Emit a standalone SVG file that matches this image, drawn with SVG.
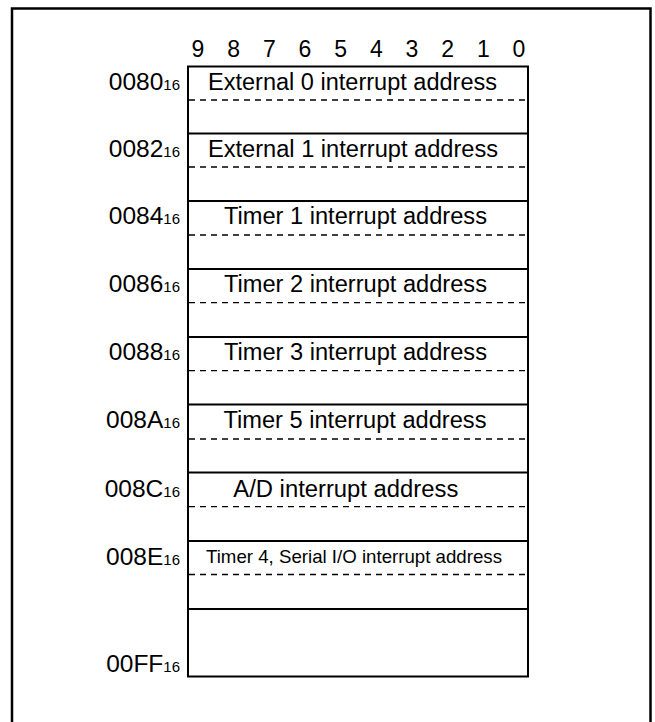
<svg xmlns="http://www.w3.org/2000/svg" width="655" height="722" viewBox="0 0 655 722">
<style>
  text { font-family: "Liberation Sans", Arial, sans-serif; fill: #000; }
  .bit { font-size: 23px; text-anchor: middle; }
  .lbl { font-size: 24.5px; text-anchor: end; }
  .sub { font-size: 15px; }
  .cell { font-size: 23.5px; text-anchor: middle; }
  .cell-s { font-size: 18.5px; text-anchor: middle; }
  .solid { stroke: #000; stroke-width: 2; fill: none; }
  .dash { stroke: #000; stroke-width: 1.3; stroke-dasharray: 6 5; fill: none; }
  .frame { stroke: #000; stroke-width: 2.5; fill: #fff; }
</style>
<rect width="655" height="722" fill="#fff"/>
<rect class="frame" x="12" y="8.5" width="638.5" height="730"/>

<g id="bits">
  <text class="bit" x="198" y="57">9</text>
  <text class="bit" x="233.7" y="57">8</text>
  <text class="bit" x="269.3" y="57">7</text>
  <text class="bit" x="305" y="57">6</text>
  <text class="bit" x="340.7" y="57">5</text>
  <text class="bit" x="376.3" y="57">4</text>
  <text class="bit" x="412" y="57">3</text>
  <text class="bit" x="447.7" y="57">2</text>
  <text class="bit" x="483.3" y="57">1</text>
  <text class="bit" x="519" y="57">0</text>
</g>

<g id="table">
  <rect class="solid" x="188" y="66.5" width="340" height="610"/>
  <g id="dividers">
    <line class="solid" x1="188" y1="133.5" x2="528" y2="133.5"/>
    <line class="solid" x1="188" y1="201" x2="528" y2="201"/>
    <line class="solid" x1="188" y1="269" x2="528" y2="269"/>
    <line class="solid" x1="188" y1="337" x2="528" y2="337"/>
    <line class="solid" x1="188" y1="404.5" x2="528" y2="404.5"/>
    <line class="solid" x1="188" y1="472.5" x2="528" y2="472.5"/>
    <line class="solid" x1="188" y1="541" x2="528" y2="541"/>
    <line class="solid" x1="188" y1="609" x2="528" y2="609"/>
    <line class="dash" x1="189" y1="100" x2="527" y2="100"/>
    <line class="dash" x1="189" y1="167" x2="527" y2="167"/>
    <line class="dash" x1="189" y1="235" x2="527" y2="235"/>
    <line class="dash" x1="189" y1="302.7" x2="527" y2="302.7"/>
    <line class="dash" x1="189" y1="370.7" x2="527" y2="370.7"/>
    <line class="dash" x1="189" y1="439" x2="527" y2="439"/>
    <line class="dash" x1="189" y1="506.7" x2="527" y2="506.7"/>
    <line class="dash" x1="189" y1="574.5" x2="527" y2="574.5"/>
  </g>
</g>

<g id="row-0080">
  <text class="lbl" x="180" y="90">0080<tspan class="sub">16</tspan></text>
  <text class="cell" x="352.5" y="90" textLength="289" lengthAdjust="spacingAndGlyphs">External 0 interrupt address</text>
</g>
<g id="row-0082">
  <text class="lbl" x="180" y="157">0082<tspan class="sub">16</tspan></text>
  <text class="cell" x="353" y="157" textLength="290" lengthAdjust="spacingAndGlyphs">External 1 interrupt address</text>
</g>
<g id="row-0084">
  <text class="lbl" x="180" y="223.5">0084<tspan class="sub">16</tspan></text>
  <text class="cell" x="355.5" y="223.5" textLength="263" lengthAdjust="spacingAndGlyphs">Timer 1 interrupt address</text>
</g>
<g id="row-0086">
  <text class="lbl" x="180" y="291.7">0086<tspan class="sub">16</tspan></text>
  <text class="cell" x="355.5" y="291.7" textLength="263" lengthAdjust="spacingAndGlyphs">Timer 2 interrupt address</text>
</g>
<g id="row-0088">
  <text class="lbl" x="180" y="360">0088<tspan class="sub">16</tspan></text>
  <text class="cell" x="355.5" y="360" textLength="263" lengthAdjust="spacingAndGlyphs">Timer 3 interrupt address</text>
</g>
<g id="row-008A">
  <text class="lbl" x="180" y="428.3">008A<tspan class="sub">16</tspan></text>
  <text class="cell" x="355" y="428.3" textLength="263" lengthAdjust="spacingAndGlyphs">Timer 5 interrupt address</text>
</g>
<g id="row-008C">
  <text class="lbl" x="180" y="496.5">008C<tspan class="sub">16</tspan></text>
  <text class="cell" x="345.8" y="496.5" textLength="225" lengthAdjust="spacingAndGlyphs">A/D interrupt address</text>
</g>
<g id="row-008E">
  <text class="lbl" x="180" y="564.5">008E<tspan class="sub">16</tspan></text>
  <text class="cell-s" x="354" y="563" textLength="296" lengthAdjust="spacingAndGlyphs">Timer 4, Serial I/O interrupt address</text>
</g>
<g id="row-00FF">
  <text class="lbl" x="180" y="672">00FF<tspan class="sub">16</tspan></text>
</g>
</svg>
